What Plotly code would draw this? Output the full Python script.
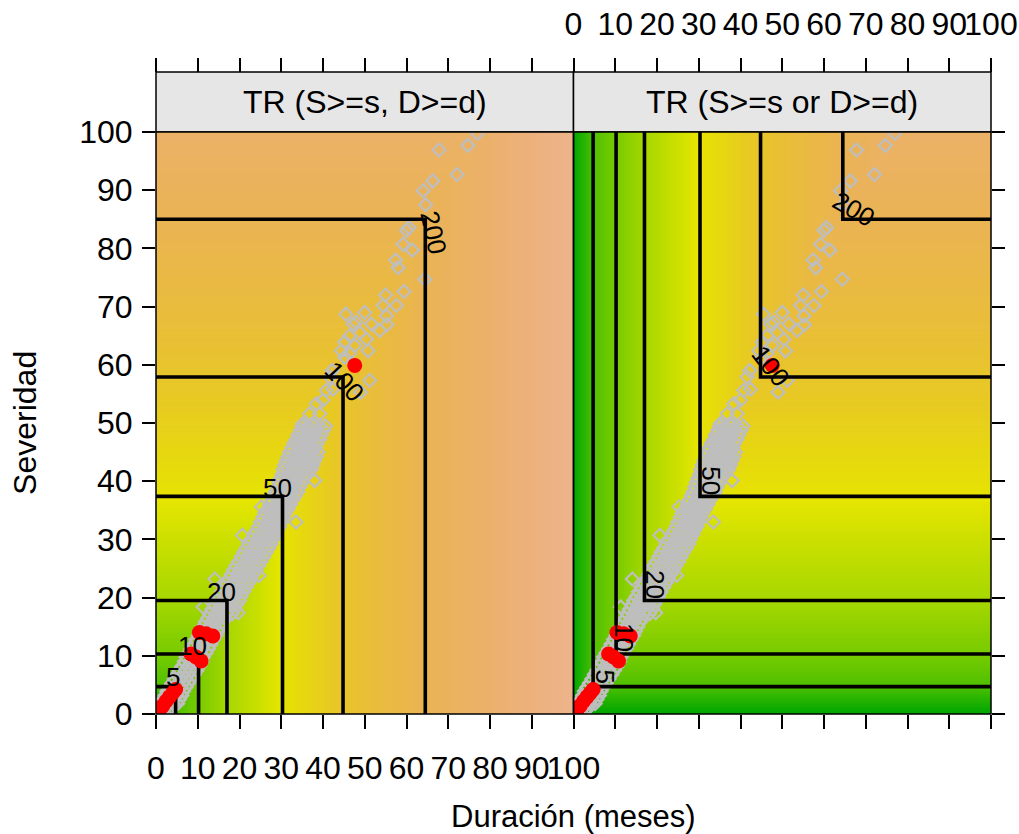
import colorsys
import numpy as np
import plotly.graph_objects as go

# Return-period contour levels and where each level meets the duration / severity margins
levels = [5, 10, 20, 50, 100, 200]
dur_at_level = [4.7, 10.2, 17.0, 30.3, 44.8, 64.5]
sev_at_level = [4.7, 10.3, 19.5, 37.4, 57.9, 85.0]
# marginal return period at the ends of the axes (value 0 and value 100)
dur_end_T = [1.0, 500.0]
sev_end_T = [1.0, 275.0]

# Observed events (grey): rows of equal severity with the durations on that row
band_rows = [
    (0.6, [0.5, 1.8, 3.0]),
    (1.2, [0.6, 1.2, 2.4, 3.6]),
    (1.8, [1.2, 2.6, 4.0, 5.2]),
    (2.5, [1.6, 3.0, 4.4, 5.6]),
    (3.2, [2.2, 3.6, 5.0, 6.2]),
    (3.9, [2.6, 4.0, 5.4, 6.6]),
    (4.6, [3.2, 4.6, 6.0, 7.2]),
    (5.3, [3.8, 5.2, 6.6, 7.8]),
    (6.0, [4.4, 5.8, 7.2, 8.5]),
    (6.8, [5.0, 6.4, 7.8, 9.2]),
    (7.5, [5.6, 7.0, 8.4, 9.8]),
    (8.2, [6.2, 7.6, 9.0, 10.4]),
    (9.0, [6.8, 8.2, 9.6, 11.0]),
    (9.8, [7.2, 8.6, 10.0, 11.4]),
    (10.5, [7.8, 9.2, 10.6, 12.0]),
    (11.2, [8.4, 9.8, 11.2, 12.6]),
    (12.0, [9.0, 10.4, 11.8, 13.2]),
    (12.8, [9.6, 11.0, 12.4, 13.8]),
    (13.5, [10.2, 11.6, 13.0, 14.4]),
    (14.2, [10.6, 12.0, 13.4, 14.8]),
    (15.0, [11.2, 12.6, 14.0, 15.4]),
    (15.8, [11.8, 13.2, 14.6, 16.0]),
    (16.5, [12.4, 13.8, 15.2, 16.6]),
    (17.2, [12.8, 14.2, 15.6, 17.0, 18.2]),
    (18.0, [13.4, 14.8, 16.2, 17.6, 19.0]),
    (18.8, [14.0, 15.4, 16.8, 18.2, 19.4]),
    (19.5, [14.4, 15.8, 17.2, 18.6, 20.0]),
    (20.2, [15.0, 16.4, 17.8, 19.2, 20.4]),
    (21.0, [15.6, 17.0, 18.4, 19.8, 21.0]),
    (21.8, [16.2, 17.6, 19.0, 20.4, 21.6]),
    (22.5, [16.8, 18.2, 19.6, 21.0, 22.2]),
    (23.2, [17.4, 18.8, 20.2, 21.6, 22.8]),
    (24.0, [18.0, 19.4, 20.8, 22.2, 23.4]),
    (24.8, [18.6, 20.0, 21.4, 22.8, 24.0]),
    (25.5, [19.2, 20.6, 22.0, 23.4, 24.6]),
    (26.2, [19.8, 21.2, 22.6, 24.0, 25.2]),
    (27.0, [20.4, 21.8, 23.2, 24.6, 25.8]),
    (27.8, [21.0, 22.4, 23.8, 25.2, 26.4]),
    (28.5, [21.6, 23.0, 24.4, 25.8, 27.0]),
    (29.2, [22.2, 23.6, 25.0, 26.4, 27.6]),
    (30.0, [22.8, 24.2, 25.6, 27.0, 28.0]),
    (30.8, [23.4, 24.8, 26.2, 27.6, 28.6]),
    (31.5, [24.0, 25.4, 26.8, 28.0, 29.0]),
    (32.2, [24.6, 26.0, 27.4, 28.6, 29.6]),
    (33.0, [25.0, 26.4, 27.8, 29.0, 30.0]),
    (33.8, [25.6, 27.0, 28.4, 29.6, 30.6]),
    (34.5, [26.0, 27.4, 28.8, 30.0, 31.0]),
    (35.2, [26.6, 28.0, 29.4, 30.6, 31.6]),
    (36.0, [27.2, 28.6, 30.0, 31.2, 32.2]),
    (36.8, [27.8, 29.2, 30.6, 31.8, 32.8]),
    (37.5, [28.2, 29.6, 31.0, 32.2, 33.4]),
    (38.2, [28.6, 30.0, 31.4, 32.8, 34.0]),
    (39.0, [29.0, 30.4, 31.8, 33.2, 34.4]),
    (39.8, [29.4, 30.8, 32.2, 33.6, 35.0]),
    (40.5, [29.8, 31.2, 32.6, 34.0, 35.4]),
    (41.2, [30.2, 31.6, 33.0, 34.4, 35.8]),
    (42.0, [30.4, 31.8, 33.2, 34.6, 36.0, 37.2]),
    (42.8, [30.8, 32.2, 33.6, 35.0, 36.4, 37.6]),
    (43.5, [31.2, 32.6, 34.0, 35.4, 36.8, 38.0]),
    (44.2, [31.6, 33.0, 34.4, 35.8, 37.2, 38.4]),
    (45.0, [32.0, 33.4, 34.8, 36.2, 37.6, 38.8]),
    (45.8, [32.6, 34.0, 35.4, 36.8, 38.2]),
    (46.5, [33.0, 34.4, 35.8, 37.2, 38.6]),
    (47.2, [33.6, 35.0, 36.4, 37.8, 39.2]),
    (48.0, [34.0, 35.4, 36.8, 38.2, 39.6]),
    (48.8, [34.6, 36.0, 37.4, 38.8, 40.2]),
    (49.5, [35.0, 36.4, 37.8, 39.2, 40.6]),
]
# isolated grey events (duration, severity)
sparse_dur = [33.5, 24.7, 20.7, 14.1, 19.7, 11.3, 25.3, 38.0, 36.8,
              33.6, 35.6, 34.4, 36.4, 35.2, 37.6, 36.8, 39.2, 38.4, 40.0,
              40.8, 42.4, 41.6, 42.2, 49.0, 51.2, 45.2, 46.4, 50.8, 44.4,
              47.6, 45.2, 50.4, 46.4, 48.8, 53.6, 48.0, 55.3, 51.6, 47.2,
              45.5, 50.0, 55.2, 54.4, 57.6, 55.0, 59.4, 64.4, 58.0, 57.4,
              61.4, 59.2, 60.0, 60.6, 64.6, 64.0, 66.3, 72.1, 67.8, 74.7, 77.0]
sparse_sev = [33.0, 23.8, 30.7, 23.2, 17.4, 18.4, 35.6, 40.1, 42.7,
              46.4, 46.1, 48.1, 47.6, 49.9, 49.9, 51.6, 51.6, 53.3, 53.9,
              55.6, 55.8, 57.9, 59.0, 55.3, 57.3, 61.3, 62.0, 62.4, 62.4,
              63.3, 63.9, 64.4, 65.0, 65.5, 65.9, 67.3, 66.9, 67.0, 67.0,
              68.7, 69.0, 68.4, 70.2, 70.2, 72.0, 72.6, 74.7, 76.7, 78.0,
              79.7, 80.7, 83.1, 83.6, 87.5, 89.9, 91.6, 92.7, 96.9, 97.7, 99.8]

# highlighted events (red)
red_dur = [0.8, 1.6, 2.4, 3.2, 4.0, 4.7, 8.4, 9.6, 10.8, 10.4, 12.0, 13.6, 47.6]
red_sev = [0.6, 1.4, 2.2, 2.9, 3.6, 4.2, 10.3, 9.8, 9.1, 14.0, 13.8, 13.4, 59.9]

axis_ticks = list(range(0, 101, 10))

gray_dur = [d for s, ds in band_rows for d in ds] + sparse_dur
gray_sev = [s for s, ds in band_rows for d in ds] + sparse_sev


def terrain_colors(n):
    """R's terrain.colors palette as a Plotly colorscale."""
    k = n // 2
    cols = []
    for i in range(k):
        t = i / (k - 1)
        h = 4 / 12 + (2 / 12 - 4 / 12) * t
        v = 0.65 + (0.90 - 0.65) * t
        cols.append(colorsys.hsv_to_rgb(h, 1.0, v))
    m = n - k
    for j in range(1, m + 1):
        t = j / m
        h = (2 / 12) * (1 - t)
        s = 1 - t
        v = 0.90 + 0.05 * t
        cols.append(colorsys.hsv_to_rgb(h, s, v))
    scale = []
    for i, (r, g, b) in enumerate(cols):
        scale.append([i / (len(cols) - 1),
                      "rgb(%d,%d,%d)" % (round(r * 255), round(g * 255), round(b * 255))])
    return scale


# marginal return periods along each axis, from the contour crossings
dur_nodes = [0.0] + dur_at_level + [100.0]
dur_T = [dur_end_T[0]] + levels + [dur_end_T[1]]
sev_nodes = [0.0] + sev_at_level + [100.0]
sev_T = [sev_end_T[0]] + levels + [sev_end_T[1]]

grid = np.linspace(0, 100, 401)
log_dur = np.interp(grid, dur_nodes, np.log10(dur_T))
log_sev = np.interp(grid, sev_nodes, np.log10(sev_T))
z_and = np.maximum(log_dur[None, :], log_sev[:, None])
z_or = np.minimum(log_dur[None, :], log_sev[:, None])

cscale = terrain_colors(100)
ZMIN, ZMAX = 0.0, 3.4

FONT = "Liberation Sans, Arial, sans-serif"
fig = go.Figure()

for xa, z in (("x", z_and), ("x2", z_or)):
    fig.add_trace(go.Heatmap(x=grid, y=grid, z=z, colorscale=cscale, zmin=ZMIN, zmax=ZMAX,
                             showscale=False, xaxis=xa, yaxis="y", hoverinfo="skip"))

# grey events
for xa in ("x", "x2"):
    fig.add_trace(go.Scatter(x=gray_dur, y=gray_sev, mode="markers", xaxis=xa, yaxis="y",
                             marker=dict(symbol="diamond-open", size=10, color="#BEBEBE",
                                         line=dict(width=2.2, color="#BEBEBE")),
                             showlegend=False, hoverinfo="skip"))

# contour lines: joint (AND) -> L opening to the lower left, OR -> L opening to the upper right
and_x, and_y, or_x, or_y = [], [], [], []
for d, s in zip(dur_at_level, sev_at_level):
    and_x += [0, d, d, None]
    and_y += [s, s, 0, None]
    or_x += [d, d, 100, None]
    or_y += [100, s, s, None]
fig.add_trace(go.Scatter(x=and_x, y=and_y, mode="lines", xaxis="x", yaxis="y",
                         line=dict(color="black", width=3.6), showlegend=False, hoverinfo="skip"))
fig.add_trace(go.Scatter(x=or_x, y=or_y, mode="lines", xaxis="x2", yaxis="y",
                         line=dict(color="black", width=3.6), showlegend=False, hoverinfo="skip"))

# red events
for xa in ("x", "x2"):
    fig.add_trace(go.Scatter(x=red_dur, y=red_sev, mode="markers", xaxis=xa, yaxis="y",
                             marker=dict(symbol="circle", size=15, color="#FF0000"),
                             showlegend=False, hoverinfo="skip"))

# placeholders so the top and right-hand tick axes are drawn
fig.add_trace(go.Scatter(x=[None], y=[None], xaxis="x3", yaxis="y", showlegend=False))
fig.add_trace(go.Scatter(x=[None], y=[None], xaxis="x4", yaxis="y", showlegend=False))
fig.add_trace(go.Scatter(x=[None], y=[None], xaxis="x2", yaxis="y2", showlegend=False))

# contour labels: (xshift, yshift, angle) per level, for each panel
and_label_style = [(-3, 10, 0), (-6, 8, 0), (-5, 9, 0), (-5, 8, 0), (1, -4, 47), (8, -13, 78)]
or_label_style = [(12, 10, 90), (8, 17, 90), (11, 16, 90), (11, 16, 90), (10, 11, 52), (11, 10, 30)]
annotations = []
for lev, d, s, st in zip(levels, dur_at_level, sev_at_level, and_label_style):
    annotations.append(dict(x=d, y=s, xref="x", yref="y", text=str(lev), showarrow=False,
                            xanchor="center", yanchor="middle",
                            xshift=st[0], yshift=st[1], textangle=st[2],
                            font=dict(family=FONT, size=26, color="black")))
for lev, d, s, st in zip(levels, dur_at_level, sev_at_level, or_label_style):
    annotations.append(dict(x=d, y=s, xref="x2", yref="y", text=str(lev), showarrow=False,
                            xanchor="center", yanchor="middle",
                            xshift=st[0], yshift=st[1], textangle=st[2],
                            font=dict(family=FONT, size=26, color="black")))

Y_TOP = 582 / 642  # top of the panels in paper units (strip sits above)
strip_titles = ["TR (S>=s, D>=d)", "TR (S>=s or D>=d)"]
for i, title in enumerate(strip_titles):
    annotations.append(dict(x=0.25 + 0.5 * i, y=(Y_TOP + 1) / 2, xref="paper", yref="paper",
                            text=title, showarrow=False, xanchor="center", yanchor="middle",
                            font=dict(family=FONT, size=32, color="black")))
annotations.append(dict(x=0.5, y=-0.160, xref="paper", yref="paper", text="Duración (meses)",
                        showarrow=False, xanchor="center", yanchor="middle",
                        font=dict(family=FONT, size=31, color="black")))
annotations.append(dict(x=-0.157, y=Y_TOP / 2, xref="paper", yref="paper", text="Severidad",
                        textangle=-90, showarrow=False, xanchor="center", yanchor="middle",
                        font=dict(family=FONT, size=32, color="black")))

shapes = []
for i, dom in enumerate(("x domain", "x2 domain")):
    shapes.append(dict(type="rect", xref=dom, yref="y domain", x0=0, x1=1, y0=0, y1=1,
                       line=dict(color="black", width=1.5), layer="above"))
    shapes.append(dict(type="rect", xref="paper", yref="paper", x0=0.5 * i, x1=0.5 * (i + 1),
                       y0=Y_TOP, y1=1, fillcolor="#E6E6E6",
                       line=dict(color="black", width=1.5), layer="below"))

tickfont = dict(family=FONT, size=32, color="black")
base_x = dict(range=[0, 100], tickvals=axis_ticks, ticks="outside", ticklen=14, tickwidth=1.5,
              tickcolor="black", showgrid=False, zeroline=False, showline=False,
              tickfont=tickfont, tickangle=0, automargin=False)

fig.update_layout(
    width=1019, height=834,
    margin=dict(l=156, r=28, t=72, b=120, autoexpand=False),
    paper_bgcolor="white", plot_bgcolor="white",
    showlegend=False,
    xaxis=dict(base_x, domain=[0, 0.5], anchor="y", ticklabelstandoff=12),
    xaxis2=dict(base_x, domain=[0.5, 1], anchor="y", showticklabels=False),
    xaxis3=dict(base_x, overlaying="x", side="top", anchor="free", position=1,
                showticklabels=False),
    xaxis4=dict(base_x, overlaying="x2", side="top", anchor="free", position=1,
                ticklabelstandoff=10),
    yaxis=dict(range=[0, 100], domain=[0, Y_TOP], tickvals=axis_ticks, ticks="outside",
               ticklen=13, tickwidth=1.5, tickcolor="black", showgrid=False, zeroline=False,
               showline=False, tickfont=tickfont, ticklabelstandoff=3, automargin=False),
    yaxis2=dict(range=[0, 100], overlaying="y", side="right", anchor="x2",
                tickvals=axis_ticks, ticks="outside", ticklen=13, tickwidth=1.5,
                tickcolor="black", showgrid=False, zeroline=False, showline=False,
                showticklabels=False, automargin=False),
    annotations=annotations,
    shapes=shapes,
)

fig.write_html("out.html")
